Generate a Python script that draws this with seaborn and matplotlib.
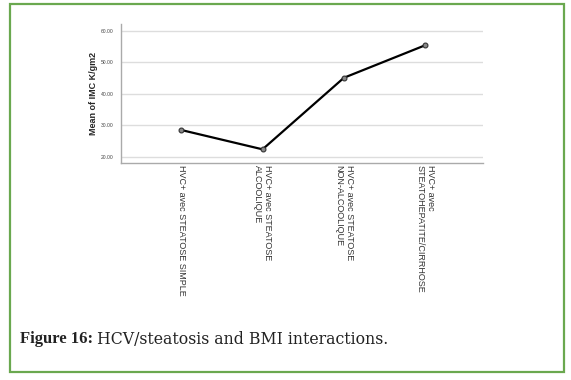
import matplotlib
matplotlib.use("Agg")
import matplotlib.pyplot as plt
import seaborn as sns
import pandas as pd
from matplotlib.patches import Rectangle

categories = ["HVC+ avec STEATOSE SIMPLE",
              "HVC+ avec STEATOSE\nALCOOLIQUE",
              "HVC+ avec STEATOSE\nNON-ALCOOLIQUE",
              "HVC+ avec\nSTEATOHEPATITE/CIRRHOSE"]
imc_means = [28.5, 22.35, 45.1, 55.45]
y_ticks = [20, 30, 40, 50, 60]

sns.set_style("white")
plt.rcParams['font.family'] = ['Liberation Sans', 'DejaVu Sans']

W, H = 571, 380
fig = plt.figure(figsize=(W / 100, H / 100), dpi=100)
fig.patch.set_facecolor("white")

# green frame
fig.patches.append(Rectangle((10 / W, 1 - 372 / H), (564 - 10) / W, (372 - 4) / H,
                             transform=fig.transFigure, fill=False,
                             edgecolor="#6aa84f", linewidth=1.6))

ax = fig.add_axes([121 / W, 1 - 162.7 / H, (483 - 121) / W, (162.7 - 24) / H])
df = pd.DataFrame({"pos": range(len(categories)), "val": imc_means})
sns.lineplot(data=df, x="pos", y="val", ax=ax, color="black", linewidth=1.6,
             marker="o", markersize=3.5, markerfacecolor="#888888",
             markeredgecolor="#333333", markeredgewidth=0.8)

ax.set_xlim(-0.74, 3.71)
ax.set_ylim(18.1, 62.2)
ax.set_yticks(y_ticks)
ax.set_yticklabels([f"{v:.2f}" for v in y_ticks], fontsize=3.6, color="#444444")
ax.set_xticks(range(len(categories)))
ax.set_xticklabels(categories, rotation=270, fontsize=6.5, color="#333333",
                   ha="center", va="top", multialignment="left")
ax.tick_params(axis="both", length=0)
ax.tick_params(axis="y", pad=5.5)
ax.tick_params(axis="x", pad=2)
ax.yaxis.grid(True, color="#dddddd", linewidth=1.0)
ax.xaxis.grid(False)
ax.set_axisbelow(True)
for s in ["top", "right"]:
    ax.spines[s].set_visible(False)
for s in ["left", "bottom"]:
    ax.spines[s].set_color("#aaaaaa")
    ax.spines[s].set_linewidth(1.0)
ax.set_xlabel("")
ax.set_ylabel("Mean of IMC K/gm2", fontsize=6.5, fontweight="bold", labelpad=1.5)

# caption
t1 = fig.text(20 / W, 1 - 339 / H, "Figure 16:", fontsize=12, fontweight="bold",
              family=["Liberation Serif", "DejaVu Serif"], va="center", ha="left",
              color="#222222")
fig.canvas.draw()
bb = t1.get_window_extent(fig.canvas.get_renderer())
fig.text((bb.x1 + 4) / W, 1 - 339 / H, "HCV/steatosis and BMI interactions.",
         fontsize=11.3, family=["DejaVu Serif"], va="center",
         ha="left", color="#222222")

fig.savefig("out.png", dpi=100)
